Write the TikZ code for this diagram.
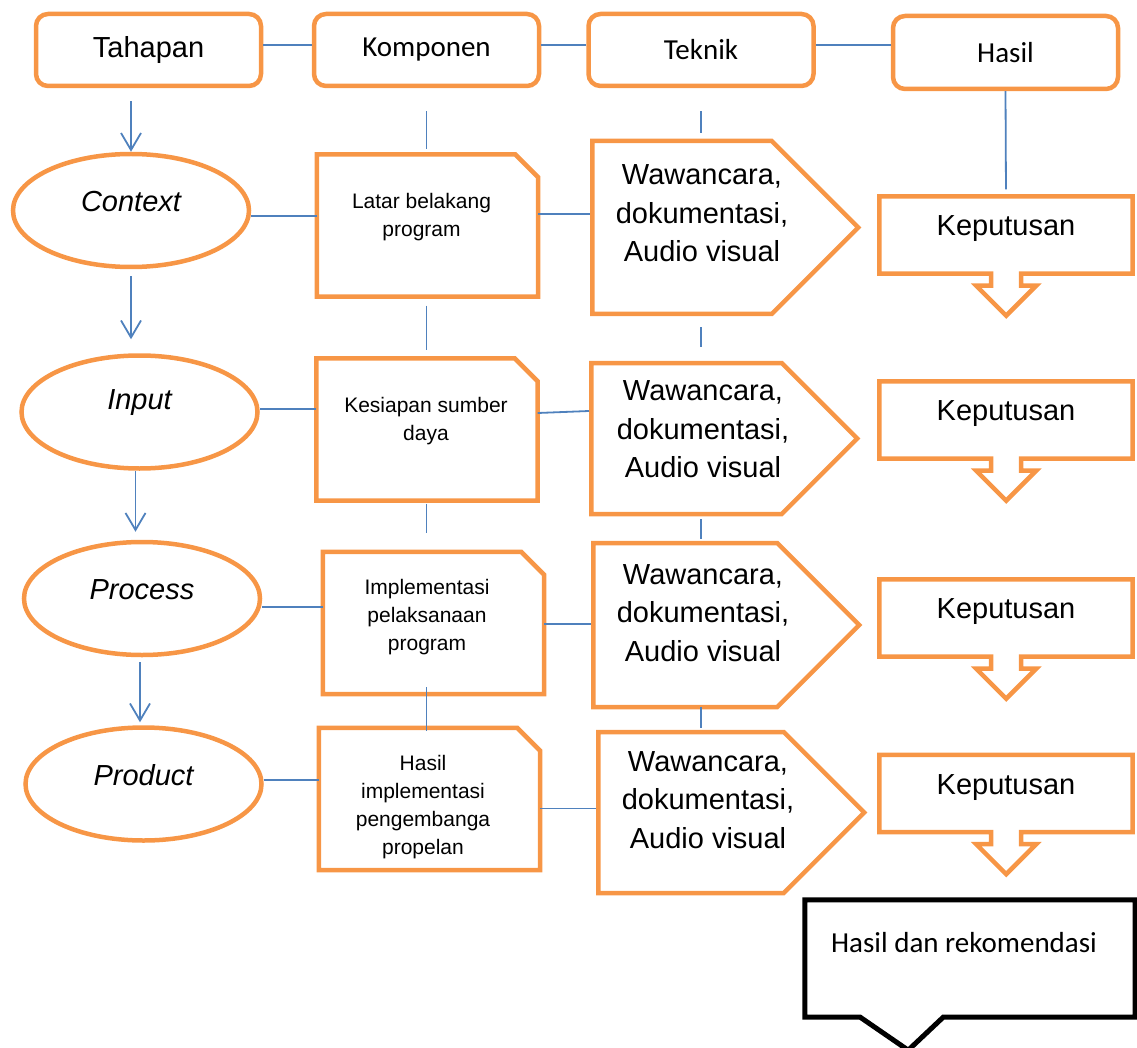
\documentclass[tikz,border=0pt]{standalone}
\usepackage{fontspec}
\setmainfont{Liberation Sans}
\newfontfamily\calibrifont{Carlito}
\usepackage{tikz}
\usetikzlibrary{positioning,calc,arrows.meta,shapes.geometric,shapes.symbols}
\definecolor{ofborder}{HTML}{F79646}
\definecolor{ofline}{HTML}{4F81BD}

\begin{document}
\begin{tikzpicture}[x=1pt, y=-1pt,
  head/.style={draw=ofborder, line width=4.5pt, rounded corners=12pt, minimum width=225pt, minimum height=72pt, inner sep=0pt, font=\calibrifont\fontsize{29}{34}\selectfont},
  stage/.style={ellipse, draw=ofborder, line width=4.5pt, minimum width=236pt, minimum height=113pt, inner sep=0pt},
  comp/.style={minimum width=221pt, minimum height=142pt, inner sep=0pt},
  tech/.style={signal, signal to=east, draw=ofborder, line width=4.5pt, minimum width=266pt, inner sep=0pt, anchor=west},
  kep/.style={minimum width=253pt, minimum height=77pt, inner sep=0pt},
  outline/.style={draw=ofborder, line width=4.5pt, line join=miter},
  bigtxt/.style={font=\fontsize{29}{38.5}\selectfont, align=center, inner sep=0pt},
  stagetxt/.style={font=\itshape\fontsize{29}{34}\selectfont, inner sep=0pt},
  smalltxt/.style={font=\fontsize{21}{28}\selectfont, align=center, inner sep=0pt},
  link/.style={draw=ofline, line width=1.8pt},
  arr/.style={link, -{Straight Barb[length=17pt, width=20pt]}},
]
\useasboundingbox (0,0) rectangle (1137,1048);
% header row
\node[head, font=\fontsize{29}{34}\selectfont] (tah) at (148.5,50) {Tahapan};
\node[head] (kom) at (426.5,50) {Komponen};
\node[head] (tek) at (701,50) {Teknik};
\node[head, minimum height=73pt] (has) at (1005.5,52.5) {Hasil};
\draw[link] ([yshift=5pt]tah.east) -- ([yshift=5pt]kom.west);
\draw[link] ([yshift=5pt]kom.east) -- ([yshift=5pt]tek.west);
\draw[link] ([yshift=5pt]tek.east) -- ([yshift=7.5pt]has.west);
% stages
\node[stage] (ctx) at (131,210.5) {};
\node[stage] (inp) at (139.5,412) {};
\node[stage] (prc) at (142,598.5) {};
\node[stage] (prd) at (143.5,784) {};
\node[stagetxt] (ctx-t) at ($(ctx)+(0,-9)$) {Context};
\node[stagetxt] (inp-t) at ($(inp)+(0,-9)$) {Input};
\node[stagetxt] (prc-t) at ($(prc)+(0,-9)$) {Process};
\node[stagetxt] (prd-t) at ($(prd)+(0,-9)$) {Product};
\draw[arr, shorten <=13pt] (tah.south -| ctx.north) -- (ctx.north);
\draw[arr, shorten <=7pt, shorten >=14pt] (ctx.south) -- (ctx.south |- inp.north);
\draw[arr, shorten >=8pt] ([xshift=-4pt]inp.south) -- ([xshift=-4pt]inp.south |- prc.north);
\draw[arr, shorten <=5pt, shorten >=3pt] ([xshift=-2pt]prc.south) -- ([xshift=-2pt]prc.south |- prd.north);
% components
\node[comp] (lb1) at (427.5,225.5) {};
\node[comp] (lb2) at (427,429.5) {};
\node[comp] (lb3) at (433.5,623) {};
\node[comp] (lb4) at (429.5,799) {};
\foreach \b in {lb1,lb2,lb3,lb4}
  \draw[outline] (\b.north west) -- ($(\b.north east)+(-23,0)$) -- ($(\b.north east)+(0,23)$)
    -- (\b.south east) -- (\b.south west) -- cycle;
\node[smalltxt] (lb1-t) at ($(lb1)+(-6,-8.5)$) {Latar belakang\\program};
\node[smalltxt] (lb2-t) at ($(lb2)+(-1,-8.5)$) {Kesiapan sumber\\daya};
\node[smalltxt] (lb3-t) at ($(lb3)+(-6.5,-6)$) {Implementasi\\pelaksanaan\\program};
\node[smalltxt] (lb4-t) at ($(lb4)+(-6.5,8.5)$) {Hasil\\implementasi\\pengembanga\\propelan};
\draw[link, shorten <=23pt, shorten >=5pt] (kom.south) -- (kom.south |- lb1.north);
\draw[link, shorten <=9pt, shorten >=8pt] (lb1.south -| kom.south) -- (lb2.north -| kom.south);
\draw[link, shorten <=3pt, shorten >=19pt] (lb2.south -| kom.south) -- (lb3.north -| kom.south);
\draw[link, shorten <=-7pt, shorten >=-3pt] (lb3.south -| kom.south) -- (lb4.north -| kom.south);
% techniques
\node[tech, minimum height=173pt] (sg1) at (590,227.5) {};
\node[tech, minimum height=151pt] (sg2) at (589,438.5) {};
\node[tech, minimum height=164pt] (sg3) at (591,625) {};
\node[tech, minimum height=161pt] (sg4) at (596,812.5) {};
\node[bigtxt] (sg1-t) at ($(sg1.west)+(112,-14)$) {Wawancara,\\dokumentasi,\\Audio visual};
\node[bigtxt] (sg2-t) at ($(sg2.west)+(114,-9)$) {Wawancara,\\dokumentasi,\\Audio visual};
\node[bigtxt] (sg3-t) at ($(sg3.west)+(112,-12)$) {Wawancara,\\dokumentasi,\\Audio visual};
\node[bigtxt] (sg4-t) at ($(sg4.west)+(112,-12.5)$) {Wawancara,\\dokumentasi,\\Audio visual};
\draw[link, shorten <=23pt, shorten >=6pt] (tek.south) -- (tek.south |- sg1.north);
\draw[link, shorten <=11pt, shorten >=14pt] (sg1.south -| tek.south) -- (sg2.north -| tek.south);
\draw[link, shorten <=3pt, shorten >=2pt] (sg2.south -| tek.south) -- (sg3.north -| tek.south);
\draw[link, shorten <=-2pt, shorten >=2pt] (sg3.south -| tek.south) -- (sg4.north -| tek.south);
% row links
\draw[link] ([yshift=-5.5pt]ctx.east) -- ([yshift=9.5pt]lb1.west);
\draw[link] ([yshift=11.5pt]lb1.east) -- ([yshift=13.5pt]sg1.west);
\draw[link] ([yshift=3pt]inp.east) -- ([yshift=20.5pt]lb2.west);
\draw[link] ([yshift=16.5pt]lb2.east) -- ([yshift=27.5pt]sg2.west);
\draw[link] ([yshift=-8.5pt]prc.east) -- ([yshift=16pt]lb3.west);
\draw[link] ([yshift=-1pt]lb3.east) -- ([yshift=1pt]sg3.west);
\draw[link] ([yshift=4pt]prd.east) -- ([yshift=19pt]lb4.west);
\draw[link] ([yshift=-9.5pt]lb4.east) -- ([yshift=4pt]sg4.west);
% decisions
\foreach \k/\ky in {1/235, 2/420, 3/618, 4/793.5} {
  \node[kep] (kep\k) at (1006,\ky) {};
  \draw[outline]
    (kep\k.north west) -- (kep\k.north east) -- (kep\k.south east)
    -- ++(-111.5,0) -- ++(0,12) -- ++(15,0) -- ++(-30,30) -- ++(-30,-30)
    -- ++(15,0) -- ++(0,-12) -- (kep\k.south west) -- cycle;
  \node[bigtxt] (kep\k-t) at ($(kep\k)+(0,-6)$) {Keputusan};
}
\draw[link, shorten >=7pt] (has.south) -- (kep1.north);
% final result
\node[minimum width=330pt, minimum height=117pt, inner sep=0pt] (rek) at (970,958.5) {};
\draw[black, line width=5pt, line join=miter]
  (rek.north west) -- (rek.north east) -- (rek.south east) -- ++(-192,0)
  -- ++(-35,33) -- ++(-48,-33) -- (rek.south west) -- cycle;
\node[font=\calibrifont\fontsize{29}{34}\selectfont, inner sep=0pt] (rek-t) at ($(rek)+(-6,-15.5)$) {Hasil dan rekomendasi};
\end{tikzpicture}
\end{document}
